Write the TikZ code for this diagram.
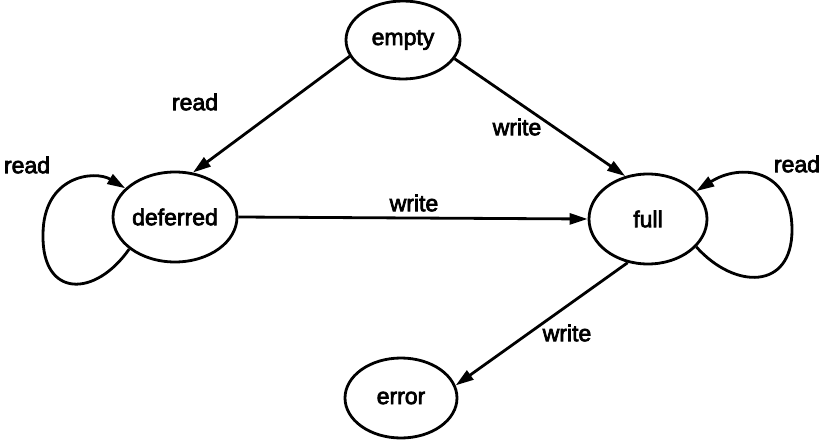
\documentclass[tikz,border=0pt]{standalone}
\usepackage{fontspec}
\setmainfont{Liberation Sans}
\newfontfamily\statefont[FakeBold=3,BoldFont={Liberation Sans}]{Liberation Sans}
\usetikzlibrary{shapes.geometric,arrows.meta}
\begin{document}
\begin{tikzpicture}[x=1pt,y=-1pt,
  state/.style={draw,ellipse,line width=2.8pt,inner sep=0pt,font=\statefont\bfseries\fontsize{23}{25}\selectfont},
  lbl/.style={font=\statefont\bfseries\fontsize{23}{25}\selectfont,inner sep=0pt},
  trans/.style={line width=2.8pt,-{Triangle[length=18pt,width=11pt]}}]
\useasboundingbox (0,0) rectangle (822,441);
% states
\node[state,minimum width=114pt,minimum height=78pt] (empty) at (403,40) {empty};
\node[state,minimum width=124pt,minimum height=90pt] (deferred) at (175,217) {deferred};
\node[state,minimum width=118pt,minimum height=90pt] (full) at (648,219) {full};
\node[state,minimum width=112pt,minimum height=80pt] (error) at (401,398) {error};
% transitions
\draw[trans] (empty.197) -- (deferred.68);
\draw[trans] (empty.340) -- (full.118);
\draw[trans] (deferred.east) -- (full.west);
\draw[trans] (full.245) -- (error.13);
% self loops
\draw[trans] (deferred.215) .. controls (95,298) and (42,298) .. (43,235)
  .. controls (43,175) and (95,170) .. (deferred.150);
\draw[trans] (full.330) .. controls (735,290) and (792,290) .. (792,230)
  .. controls (792,168) and (740,163) .. (full.30);
% labels
\node[lbl] (lread1) at (195,102) {read};
\node[lbl] (lwrite1) at (517,127) {write};
\node[lbl] (lwrite2) at (414,203) {write};
\node[lbl] (lwrite3) at (567,333) {write};
\node[lbl] (lread2) at (27,165) {read};
\node[lbl] (lread3) at (797,164) {read};
\end{tikzpicture}
\end{document}
